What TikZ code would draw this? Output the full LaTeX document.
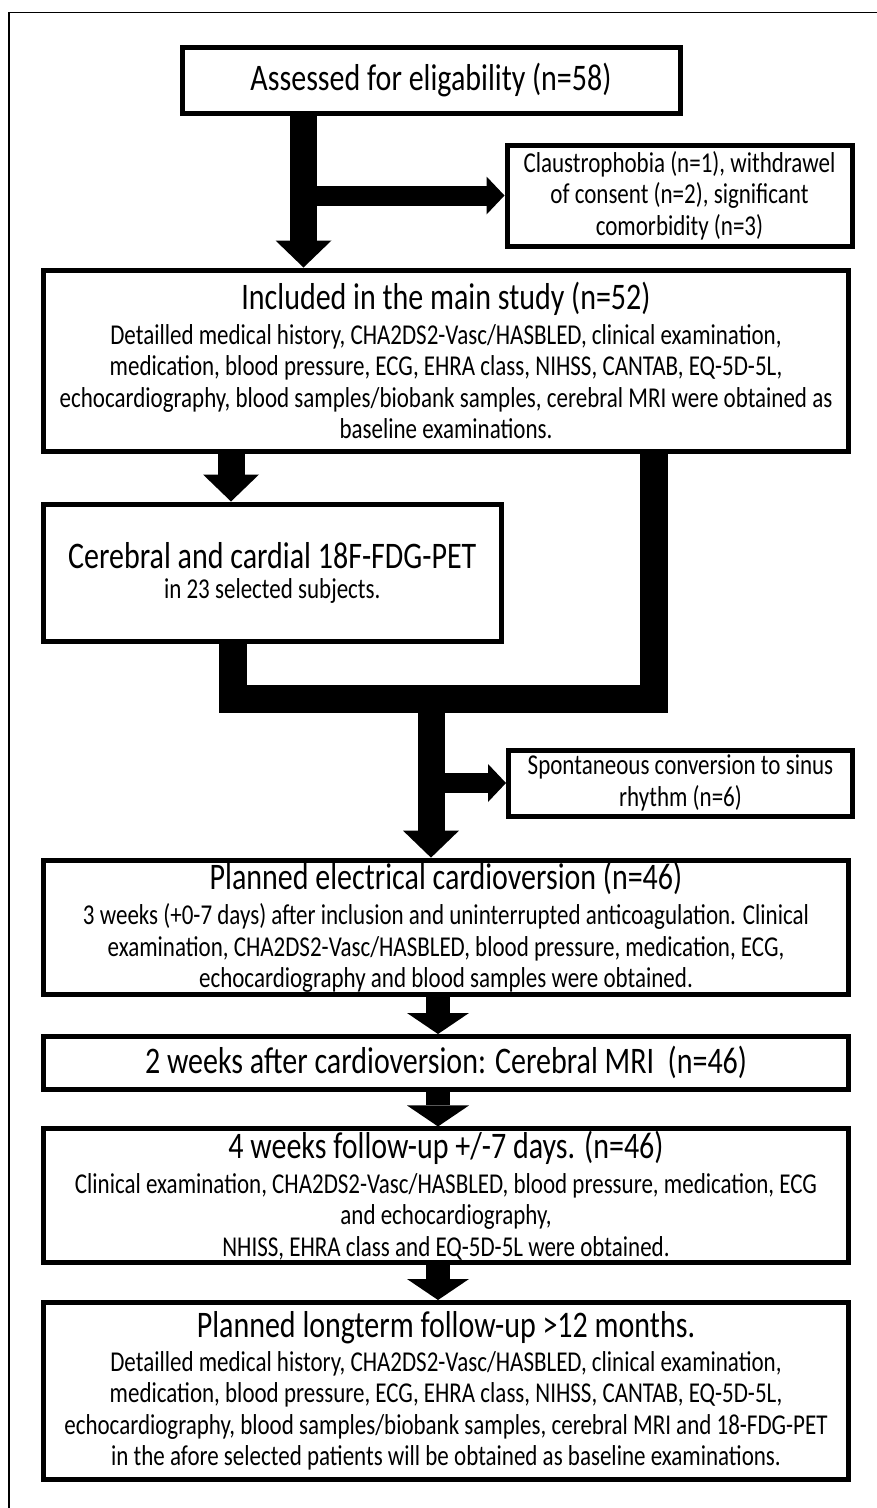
\documentclass[tikz,border=0pt]{standalone}
\usepackage{fontspec}
\usepackage{graphicx}
\setmainfont{Carlito}
\usetikzlibrary{arrows.meta}
\newcommand\mytitle{\fontsize{30}{25.1}\selectfont}
\newcommand\vs[1]{\scalebox{1}[1.25]{\vbox{\baselineskip=25.1pt\lineskiplimit=-100pt\lineskip=0pt\halign{\hfil##\hfil\cr#1\crcr}}}}
\newcommand\gap[1]{\noalign{\vskip#1}}
\begin{document}
\begin{tikzpicture}[x=1pt,y=-1pt,
  box/.style={draw, line width=5pt, fill=white, inner sep=2pt, align=center,
    font=\fontsize{23}{25.1}\selectfont},
  bigarrow/.style={line width=27pt, -{Triangle[width=56pt,length=27pt,line width=0pt]}},
  midarrow/.style={line width=24pt, -{Triangle[width=62pt,length=21pt,line width=0pt]}},
  sidearrow/.style={line width=20pt, -{Triangle[width=38pt,length=18pt,line width=0pt]}},
  bar/.style={line width=28pt, line join=miter}]
\useasboundingbox (0,0) rectangle (877,1508);
\draw[line width=1.5pt] (9,1508) -- (9,12.5) -- (877,12.5);

\node[box, minimum width=498pt, minimum height=65.5pt] (box1) at (431,80.25)
  {\vs{\mytitle Assessed for eligability (n=58)}};
\node[box, minimum width=345pt, minimum height=101pt] (claus) at (679.5,195.5)
  {\vs{Claustrophobia (n=1), withdrawel\cr of consent (n=2), significant\cr comorbidity (n=3)}};
\node[box, minimum width=805pt, minimum height=181pt] (box3) at (446,360.5)
  {\vs{{\mytitle Included in the main study (n=52)}\cr\gap{3pt}
   Detailled medical history, CHA2DS2-Vasc/HASBLED, clinical examination,\cr
   medication, blood pressure, ECG, EHRA class, NIHSS, CANTAB, EQ-5D-5L,\cr
   echocardiography, blood samples/biobank samples, cerebral MRI were obtained as\cr
   baseline examinations.}};
\node[box, minimum width=457.5pt, minimum height=137pt] (box4) at (272.25,572.5)
  {\vs{{\mytitle Cerebral and cardial 18F-FDG-PET}\cr\gap{-1pt} in 23 selected subjects.}};
\node[box, minimum width=344pt, minimum height=66pt] (spont) at (680.5,783)
  {\vs{Spontaneous conversion to sinus\cr rhythm (n=6)}};
\node[box, minimum width=805pt, minimum height=125.5pt] (box5) at (446,927.25)
  {\vs{{\mytitle Planned electrical cardioversion (n=46)}\cr\gap{3pt}
   3 weeks (+0-7 days) after inclusion and uninterrupted anticoagulation. Clinical\cr
   examination, CHA2DS2-Vasc/HASBLED, blood pressure, medication, ECG,\cr
   echocardiography and blood samples were obtained.}};
\node[box, minimum width=805pt, minimum height=52.5pt] (box6) at (446,1062.75)
  {\vs{\mytitle 2 weeks after cardioversion: Cerebral MRI\ \ (n=46)}};
\node[box, minimum width=805pt, minimum height=126pt] (box7) at (446,1195.5)
  {\vs{{\mytitle 4 weeks follow-up +/-7 days. (n=46)}\cr\gap{3pt}
   Clinical examination, CHA2DS2-Vasc/HASBLED, blood pressure, medication, ECG\cr
   and echocardiography,\cr
   NHISS, EHRA class and EQ-5D-5L were obtained.}};
\node[box, minimum width=805pt, minimum height=177pt] (box8) at (446,1391)
  {\vs{{\mytitle Planned longterm follow-up >12 months.}\cr\gap{2pt}
   Detailled medical history, CHA2DS2-Vasc/HASBLED, clinical examination,\cr
   medication, blood pressure, ECG, EHRA class, NIHSS, CANTAB, EQ-5D-5L,\cr
   echocardiography, blood samples/biobank samples, cerebral MRI and 18-FDG-PET\cr
   in the afore selected patients will be obtained as baseline examinations.}};

\coordinate (a1) at (303.5,0);
\coordinate (a2) at (231,0);
\coordinate (rx) at (654,0);
\coordinate (lx) at (233,0);
\coordinate (m) at (431,699);
\coordinate (a3) at (438,0);

\draw[bigarrow] (box1.south -| a1) -- (box3.north -| a1);
\draw[sidearrow] (a1 |- claus.west) -- (claus.west);
\draw[bigarrow] (box3.south -| a2) -- (box4.north -| a2);
\draw[bar] (box3.south -| rx) |- (m) -| (box4.south -| lx);
\draw[bigarrow] (m) -- (m |- box5.north);
\draw[sidearrow] (m |- spont.west) -- (spont.west);
\draw[midarrow] (box5.south -| a3) -- (box6.north -| a3);
\draw[midarrow] (box6.south -| a3) -- (box7.north -| a3);
\draw[midarrow] (box7.south -| a3) -- (box8.north -| a3);
\end{tikzpicture}
\end{document}
